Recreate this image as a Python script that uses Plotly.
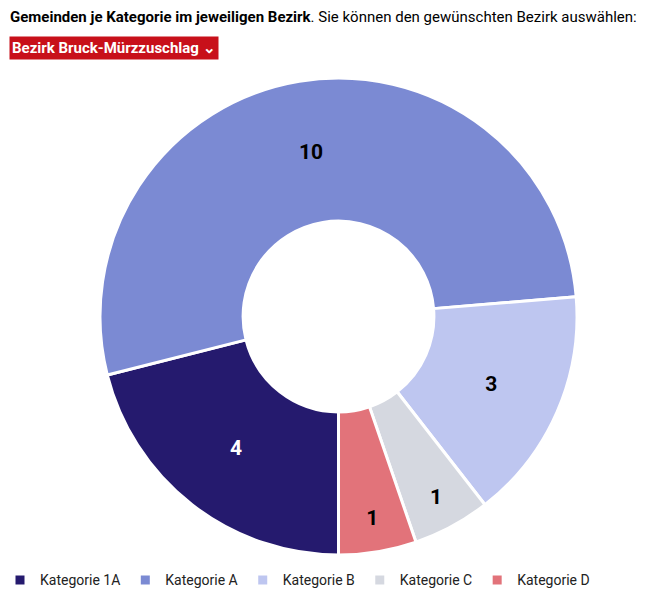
import plotly.graph_objects as go

categories = ["Kategorie 1A", "Kategorie A", "Kategorie B", "Kategorie C", "Kategorie D"]
values = [4, 10, 3, 1, 1]
colors = ["#251A6E", "#7B8AD3", "#BEC6F0", "#D5D8E0", "#E2737A"]
text_colors = ["#FFFFFF", "#000000", "#000000", "#000000", "#000000"]

FONT = "Roboto, Noto Sans, sans-serif"

fig = go.Figure(go.Pie(
    labels=categories,
    values=values,
    sort=False,
    direction="clockwise",
    rotation=180,
    hole=0.40,
    marker=dict(colors=colors, line=dict(color="#FFFFFF", width=3)),
    textinfo="value",
    textposition="inside",
    insidetextorientation="horizontal",
    insidetextfont=dict(family=FONT, size=21, color=text_colors, weight="bold"),
    domain=dict(x=[100 / 654, 577 / 654], y=[1 - 556 / 600, 1 - 77 / 600]),
    showlegend=True,
))

fig.update_layout(
    width=654,
    height=600,
    margin=dict(l=0, r=0, t=0, b=0),
    paper_bgcolor="#FFFFFF",
    plot_bgcolor="#FFFFFF",
    font=dict(family=FONT, size=15, color="#000000"),
    legend=dict(
        orientation="h",
        x=0,
        xanchor="left",
        y=0.006,
        yanchor="bottom",
        font=dict(family=FONT, size=14, color="#222222"),
        itemwidth=30,
        tracegroupgap=0,
    ),
    annotations=[
        dict(
            text="<b>Gemeinden je Kategorie im jeweiligen Bezirk</b>. Sie können den gewünschten Bezirk auswählen:",
            x=8 / 654, y=1 - 6 / 600, xref="paper", yref="paper",
            xanchor="left", yanchor="top", showarrow=False,
            font=dict(family=FONT, size=15, color="#000000"),
        ),
        dict(
            text="<b>Bezirk Bruck-Mürzzuschlag ⌄</b>",
            x=9 / 654, y=1 - 36 / 600, xref="paper", yref="paper",
            xanchor="left", yanchor="top", showarrow=False,
            bgcolor="#C8101A", borderpad=2,
            font=dict(family=FONT, size=15, color="#FFFFFF"),
        ),
    ],
)

fig.write_html("out.html")
